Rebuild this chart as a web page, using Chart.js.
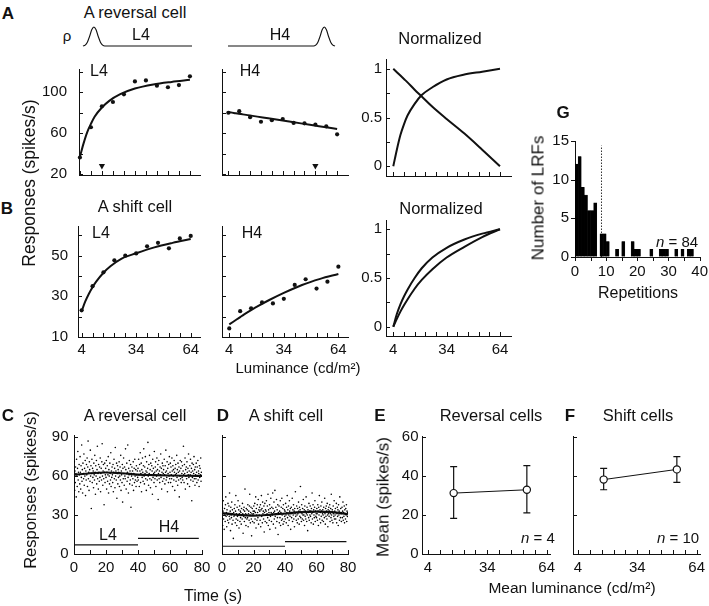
<!DOCTYPE html>
<html>
<head>
<meta charset="utf-8">
<script src="https://cdn.jsdelivr.net/npm/chart.js@4.4.0/dist/chart.umd.min.js"></script>
<style>
  html, body { margin: 0; padding: 0; background: #fff; }
  #fig { position: relative; width: 709px; height: 606px; overflow: hidden;
         font-family: "Liberation Sans", Arial, sans-serif; color: #111; }
  .t { position: absolute; white-space: nowrap; line-height: 1; transform: translate(-50%, -50%); }
  .rot { transform: translate(-50%, -50%) rotate(-90deg); }
  .b { font-weight: bold; }
  canvas { position: absolute; }
</style>
</head>
<body>
<div id="fig"></div>
<script>
// ---- A / B: responses vs luminance ----
const lumX = [4, 10, 16, 22, 28, 34, 40, 46, 52, 58, 64];
const fitX = [4, 6, 8, 10, 12, 16, 20, 26, 34, 44, 54, 64];
const lumTicks = [4, 10, 16, 22, 28, 34, 40, 46, 52, 58, 64];
const lumLabels = [4, 34, 64];

const revL4Resp = [36.2, 65.7, 86.2, 90.4, 97.9, 110.5, 111.4, 106.3, 104.8, 106.9, 115.4];
const revH4Resp = [79.9, 81.4, 75.6, 71.1, 72.6, 73.8, 69.9, 69.6, 68.4, 66.6, 58.8];
const revL4Fit = [37, 50, 61, 69, 76, 85, 91.5, 98, 103.5, 107.5, 110, 112];
const revH4Fit = [80.5, 80, 79.4, 78.9, 78.3, 77.2, 76.1, 74.5, 72.3, 69.5, 66.8, 64];
const revNormL4 = [0, 0.17, 0.32, 0.43, 0.52, 0.64, 0.73, 0.81, 0.89, 0.94, 0.97, 1.0];
const revNormH4 = [1, 0.965, 0.93, 0.895, 0.86, 0.785, 0.715, 0.61, 0.485, 0.335, 0.17, 0];
const markerLum = [16, 52];   // arrowheads in A

const shiftL4Resp = [23.1, 35.0, 41.8, 47.7, 50.0, 51.1, 54.6, 56.3, 53.6, 58.5, 59.7];
const shiftH4Resp = [14.2, 22.7, 24.1, 27.0, 26.5, 28.8, 35.6, 38.4, 33.8, 37.2, 44.6];
const shiftL4Fit = [22.7, 27.5, 31.3, 34.5, 37.2, 41.6, 44.9, 48.6, 51.2, 54.1, 56.3, 58.2];
const shiftH4Fit = [16.2, 17.4, 18.6, 19.8, 21, 23.2, 25.3, 28.2, 31.7, 35.6, 38.6, 41.0];
const shiftNormL4 = [0, 0.13, 0.23, 0.31, 0.38, 0.5, 0.6, 0.71, 0.81, 0.895, 0.955, 1];
const shiftNormH4 = [0, 0.08, 0.155, 0.22, 0.28, 0.39, 0.48, 0.59, 0.71, 0.82, 0.92, 1];

// rho schematics above A
const rhoLowX = [0, 2, 4, 6, 8, 10, 12, 14, 16, 18, 20, 100];
const rhoLowY = [0, 0.05, 0.2, 0.5, 0.85, 1, 0.85, 0.5, 0.2, 0.05, 0, 0];
const rhoHighX = [0, 80, 82, 84, 86, 88, 90, 92, 94, 96, 98, 100];
const rhoHighY = [0, 0, 0.05, 0.2, 0.5, 0.85, 1, 0.85, 0.5, 0.2, 0.05, 0];

// ---- C / D: responses over time (one value every 0.2 s) ----
const sampleStep = 0.2;
const revTimeResp = [
  58,71,49,64,55,67,62,44,73,60,52,66,79,57,63,48,69,61,54,75,
  63,50,68,59,84,56,65,47,70,62,58,77,53,66,60,72,45,64,57,69,
  61,74,52,67,87,58,63,49,71,65,56,80,60,68,35,62,73,55,66,59,
  64,51,70,61,57,76,63,46,68,60,72,54,65,83,58,62,50,69,63,56,
  67,59,74,48,62,66,57,71,85,60,53,64,69,58,38,63,70,55,61,66,
  59,72,50,63,68,56,61,75,47,65,60,54,70,62,57,78,52,64,59,67,
  61,55,69,48,63,73,58,66,51,82,60,64,57,70,43,62,68,54,65,59,
  63,71,52,60,67,57,76,49,64,61,55,69,40,66,58,74,62,53,67,60,
  58,81,65,50,62,70,56,63,84,59,47,66,61,72,54,64,57,69,36,62,
  60,67,53,64,58,71,49,62,66,55,73,60,57,65,52,68,61,56,64,59,
  66,57,73,61,52,69,64,78,55,62,70,48,65,59,74,63,56,68,81,60,
  54,67,62,75,58,64,49,71,63,57,66,86,60,53,69,62,76,58,65,51,
  70,61,57,68,64,46,73,59,66,62,55,79,63,58,67,71,52,64,60,74,
  57,65,69,42,62,72,58,64,55,67,61,77,59,66,50,63,70,56,68,62,
  65,58,73,61,54,68,63,80,57,64,59,71,48,66,62,55,69,60,75,58,
  63,70,55,67,61,58,74,64,52,68,60,65,57,72,63,49,66,61,69,56,
  62,76,59,65,53,70,63,57,67,44,64,60,72,58,66,55,71,62,59,68,
  57,64,83,61,55,69,62,74,50,65,60,67,58,71,63,54,66,61,77,59,
  64,52,68,61,73,57,63,66,41,70,59,64,56,69,62,75,58,65,53,67,
  61,58,70,63,55,67,60,72,57,64,62,52,68,59,66,61,74,56,63,60
];
const shiftTimeResp = [
  28,36,22,33,41,27,31,19,35,30,25,38,44,29,32,21,34,30,26,39,
  31,24,37,29,47,27,33,18,36,30,28,40,23,34,31,26,12,32,29,35,
  30,38,24,33,45,27,31,22,36,29,26,41,30,34,20,31,37,25,33,28,
  32,23,35,30,27,39,31,16,34,29,36,25,33,50,28,31,22,35,30,27,
  34,28,38,21,31,33,26,37,46,30,24,32,36,27,14,31,35,25,30,33,
  31,37,24,33,39,27,32,44,20,35,30,26,38,32,28,42,23,34,30,36,
  33,26,38,21,34,45,29,35,24,40,31,33,27,37,17,32,39,25,34,30,
  33,41,24,31,37,28,46,22,34,32,26,38,19,35,29,43,32,25,36,31,
  30,47,35,23,32,40,27,33,49,29,20,36,31,42,25,34,28,38,15,32,
  31,37,24,33,28,41,22,32,36,26,43,30,27,35,23,38,31,25,34,29,
  33,27,39,30,24,36,32,45,28,34,22,37,30,26,41,33,29,35,19,31,
  36,28,32,43,25,34,30,38,27,33,21,35,31,48,29,32,26,37,30,24,
  35,31,27,40,33,23,36,29,34,52,28,32,25,38,31,27,35,30,42,26,
  30,34,22,37,29,33,27,44,31,25,36,30,18,34,32,28,39,26,33,30,
  37,29,33,24,35,31,47,27,32,38,23,34,30,28,36,41,25,33,29,31,
  28,35,31,26,38,33,22,36,30,45,27,34,32,24,37,29,33,40,26,31,
  34,30,25,36,32,28,43,31,23,35,29,37,33,27,39,30,21,34,31,36,
  29,33,38,25,31,35,28,46,30,26,34,32,24,37,31,29,41,27,33,30,
  35,27,32,39,24,31,36,29,34,22,38,30,33,26,44,31,28,35,32,25,
  31,36,28,33,40,26,32,29,37,24,34,31,27,35,30,38,25,33,29,32
];
const meanT = [0, 10, 20, 30, 40, 50, 60, 70, 80];
const revMean = [61, 62.2, 62.8, 62.2, 61.2, 60.8, 60.5, 60.3, 60.2];
const shiftMean = [31.5, 30.2, 29.6, 30.2, 31.2, 32.2, 32.6, 32.2, 30.8];
const timeTicks = [0, 10, 20, 30, 40, 50, 60, 70, 80];
const timeLabels = [0, 20, 40, 60, 80];
const revStim = { l4: [0, 40, 7], h4: [40, 78, 12] };
const shiftStim = { l4: [0, 40, 6], h4: [40, 79, 9.5] };

// ---- E / F: mean response at mean luminance ----
const meanLum = [17, 54];
const revCellMean = [31.1, 32.8];
const revCellLow = [18.2, 21.0];
const revCellHigh = [44.6, 45.1];
const shiftCellMean = [38.0, 43.2];
const shiftCellLow = [32.8, 36.6];
const shiftCellHigh = [43.7, 49.7];

// ---- G: histogram of repetitions ----
const repBins = [0,1,2,3,4,5,6,7,8,9,10,11,12,13,14,15,16,17,18,19,20,21,22,23,24,25,26,27,28,29,30,31,32,33,34,35,36,37];
const lrfCounts = [12,13,9,8,6,6,7,0,3,3,2,0,0,1,0,2,0,0,2,1,1,0,0,0,1,0,0,1,1,1,0,0,1,0,1,0,1,1];
const repCutoff = 8.5;

Chart.defaults.font.family = '"Liberation Sans", Arial, sans-serif';
Chart.defaults.color = '#111';

const fig = document.getElementById('fig');
const PAD_L = 46, PAD_R = 14, PAD_T = 12, PAD_B = 32;
const INK = '#111';

const tickMarks = {
  id: 'tickMarks',
  afterDraw(chart, args, opts) {
    const ctx = chart.ctx, a = chart.chartArea;
    const xs = chart.scales.x, ys = chart.scales.y;
    const len = opts.outward ? -4 : 4;
    ctx.save();
    ctx.strokeStyle = INK;
    ctx.lineWidth = 1;
    ctx.beginPath();
    xs.ticks.forEach(function (t) {
      const px = Math.round(xs.getPixelForValue(t.value)) + 0.5;
      ctx.moveTo(px, a.bottom);
      ctx.lineTo(px, a.bottom - len);
    });
    ys.ticks.forEach(function (t) {
      const py = Math.round(ys.getPixelForValue(t.value)) + 0.5;
      ctx.moveTo(a.left, py);
      ctx.lineTo(a.left + len, py);
    });
    ctx.stroke();
    ctx.restore();
  }
};

const errorBars = {
  id: 'errorBars',
  beforeDatasetsDraw(chart) {
    const ctx = chart.ctx, xs = chart.scales.x, ys = chart.scales.y;
    ctx.save();
    ctx.strokeStyle = INK;
    ctx.lineWidth = 1.2;
    chart.data.datasets.forEach(function (ds) {
      if (!ds.errLow) return;
      ds.data.forEach(function (p, i) {
        const px = xs.getPixelForValue(p.x);
        const lo = ys.getPixelForValue(ds.errLow[i]);
        const hi = ys.getPixelForValue(ds.errHigh[i]);
        ctx.beginPath();
        ctx.moveTo(px, lo); ctx.lineTo(px, hi);
        ctx.moveTo(px - 3.5, lo); ctx.lineTo(px + 3.5, lo);
        ctx.moveTo(px - 3.5, hi); ctx.lineTo(px + 3.5, hi);
        ctx.stroke();
      });
    });
    ctx.restore();
  }
};
Chart.register(tickMarks, errorBars);

function text(html, cx, cy, size, cls) {
  const d = document.createElement('div');
  d.className = 't ' + (cls || '');
  d.style.left = cx + 'px';
  d.style.top = cy + 'px';
  d.style.fontSize = size + 'px';
  d.innerHTML = html;
  fig.appendChild(d);
}

function pts(xs, ys) {
  return xs.map(function (x, i) { return { x: x, y: ys[i] }; });
}

function dots(xs, ys, r, color) {
  return { data: pts(xs, ys), showLine: false, pointRadius: r, backgroundColor: color || INK,
           borderWidth: 0, clip: false };
}

function curve(xs, ys, w, extra) {
  return Object.assign({ data: pts(xs, ys), showLine: true, borderColor: INK, borderWidth: w,
           pointRadius: 0, cubicInterpolationMode: 'monotone', fill: false, clip: false }, extra || {});
}

function xScale(min, max, ticks, labels, pad) {
  return {
    type: 'linear', min: min, max: max, offset: false,
    afterBuildTicks: function (s) { s.ticks = ticks.map(function (v) { return { value: v }; }); },
    afterFit: function (s) { s.height = PAD_B; },
    grid: { drawOnChartArea: false, drawTicks: false },
    border: { color: INK, width: 1 },
    ticks: { autoSkip: false, maxRotation: 0, padding: pad, color: INK, font: { size: 15 },
             callback: function (v) { return labels.indexOf(v) >= 0 ? String(v) : ''; } }
  };
}

function yScale(min, max, ticks, labels, pad) {
  return {
    type: 'linear', min: min, max: max,
    afterBuildTicks: function (s) { s.ticks = ticks.map(function (v) { return { value: v }; }); },
    afterFit: function (s) { s.width = PAD_L; },
    grid: { drawOnChartArea: false, drawTicks: false },
    border: { color: INK, width: 1 },
    ticks: { autoSkip: false, padding: pad, color: INK, font: { size: 15 },
             callback: function (v) { return labels.indexOf(v) >= 0 ? String(v) : ''; } }
  };
}

function panel(area, datasets, xs, ys, tickOpts, type) {
  const c = document.createElement('canvas');
  const w = (area.r - area.l) + PAD_L + PAD_R;
  const h = (area.b - area.t) + PAD_T + PAD_B;
  c.width = w; c.height = h;
  c.style.left = (area.l - PAD_L) + 'px';
  c.style.top = (area.t - PAD_T) + 'px';
  fig.appendChild(c);
  return new Chart(c, {
    type: type || 'scatter',
    data: { datasets: datasets },
    options: {
      responsive: false, animation: false,
      layout: { padding: { left: 0, top: PAD_T, right: PAD_R, bottom: 0 } },
      plugins: { legend: { display: false }, tooltip: { enabled: false }, tickMarks: tickOpts || {} },
      scales: { x: xs, y: ys }
    }
  });
}

function sketch(area, xs, ys) {
  const c = document.createElement('canvas');
  c.width = area.r - area.l + 4; c.height = area.b - area.t + 4;
  c.style.left = (area.l - 2) + 'px';
  c.style.top = (area.t - 2) + 'px';
  fig.appendChild(c);
  return new Chart(c, {
    type: 'scatter',
    data: { datasets: [curve(xs, ys, 1.1)] },
    options: {
      responsive: false, animation: false,
      layout: { padding: 2 },
      plugins: { legend: { display: false }, tooltip: { enabled: false }, tickMarks: false, errorBars: false },
      scales: { x: { display: false, min: 0, max: 100 }, y: { display: false, min: 0, max: 1 } }
    }
  });
}

const arrowMarks = {
  showLine: false, pointStyle: 'triangle', rotation: 180, pointRadius: 3.6,
  backgroundColor: INK, borderWidth: 0
};

// A
sketch({ l: 83, r: 192, t: 27, b: 46 }, rhoLowX, rhoLowY);
sketch({ l: 228, r: 335, t: 27, b: 46 }, rhoHighX, rhoHighY);

const revTicksY = [20, 40, 60, 80, 100, 120];
panel({ l: 79, r: 200, t: 60, b: 175 },
  [curve(fitX, revL4Fit, 2), dots(lumX, revL4Resp, 2.1),
   Object.assign({}, arrowMarks, { data: [{ x: markerLum[0], y: 28 }] })],
  xScale(3.5, 69.5, lumTicks, [], 5), yScale(19.1, 122.6, revTicksY, [20, 60, 100], 12));
panel({ l: 222, r: 348, t: 60, b: 175 },
  [curve(fitX, revH4Fit, 2), dots(lumX, revH4Resp, 2.1),
   Object.assign({}, arrowMarks, { data: [{ x: markerLum[1], y: 28 }] })],
  xScale(0.5, 70, lumTicks, [], 5), yScale(19.1, 122.6, revTicksY, [], 12));
const normTicks = [0, 0.25, 0.5, 0.75, 1];
panel({ l: 386, r: 511, t: 58, b: 176 },
  [curve(fitX, revNormL4, 2), curve(fitX, revNormH4, 2)],
  xScale(-0.1, 70.2, lumTicks, [], 5), yScale(-0.1, 1.1, normTicks, [0, 0.5, 1], 4));

// B
const shiftTicksY = [10, 20, 30, 40, 50, 60];
panel({ l: 78, r: 200, t: 219, b: 337 },
  [curve(fitX, shiftL4Fit, 2), dots(lumX, shiftL4Resp, 2.1)],
  xScale(2.0, 69.1, lumTicks, lumLabels, 4), yScale(10, 64.6, shiftTicksY, [10, 30, 50], 10));
panel({ l: 222, r: 348, t: 219, b: 337 },
  [curve(fitX, shiftH4Fit, 2), dots(lumX, shiftH4Resp, 2.1)],
  xScale(0, 69.3, lumTicks, lumLabels, 4), yScale(10, 64.6, shiftTicksY, [], 10));
panel({ l: 386, r: 511, t: 219, b: 336 },
  [curve(fitX, shiftNormL4, 2), curve(fitX, shiftNormH4, 2)],
  xScale(-0.1, 70.2, lumTicks, lumLabels, 5), yScale(-0.095, 1.095, normTicks, [0, 0.5, 1], 4));

// C, D
function timeCloud(values) {
  return values.map(function (v, i) { return { x: i * sampleStep, y: v }; });
}
function stimLine(seg) {
  return curve([seg[0], seg[1]], [seg[2], seg[2]], 1.1, { cubicInterpolationMode: 'default' });
}
const timeTicksY = [0, 30, 60, 90];
panel({ l: 74, r: 202, t: 433, b: 554 },
  [{ data: timeCloud(revTimeResp), showLine: false, pointRadius: 0.8, backgroundColor: '#000', borderWidth: 0 },
   curve(meanT, revMean, 2.2), stimLine(revStim.l4), stimLine(revStim.h4)],
  xScale(0, 80, timeTicks, timeLabels, 5), yScale(0, 91.3, timeTicksY, [0, 30, 60, 90], 5.5));
panel({ l: 222, r: 348, t: 433, b: 554 },
  [{ data: timeCloud(shiftTimeResp), showLine: false, pointRadius: 0.8, backgroundColor: '#000', borderWidth: 0 },
   curve(meanT, shiftMean, 2.2), stimLine(shiftStim.l4), stimLine(shiftStim.h4)],
  xScale(0, 80, timeTicks, timeLabels, 5), yScale(0, 91.3, timeTicksY, [], 5.5));

// E, F
function meanSeries(ys, lo, hi) {
  return { data: pts(meanLum, ys), errLow: lo, errHigh: hi, showLine: true, borderColor: INK,
           borderWidth: 1, pointRadius: 3.6, backgroundColor: '#fff', pointBorderColor: INK,
           pointBorderWidth: 1.2, clip: false };
}
const meanTicksY = [0, 20, 40, 60];
panel({ l: 422, r: 550, t: 436, b: 554 },
  [meanSeries(revCellMean, revCellLow, revCellHigh)],
  xScale(1.0, 65.7, lumTicks, lumLabels, 5), yScale(0, 60, meanTicksY, [0, 20, 40, 60], 3.5));
panel({ l: 573, r: 700, t: 436, b: 554 },
  [meanSeries(shiftCellMean, shiftCellLow, shiftCellHigh)],
  xScale(1.5, 65.7, lumTicks, lumLabels, 5), yScale(0, 60, meanTicksY, [], 3.5));

// G
panel({ l: 575, r: 700, t: 138, b: 257 },
  [{ type: 'bar', data: repBins.map(function (b, i) { return { x: b + 0.5, y: lrfCounts[i] }; }),
     backgroundColor: '#000', borderColor: '#000', borderWidth: 0.4, barPercentage: 1, categoryPercentage: 1 },
   { type: 'scatter', data: [{ x: repCutoff, y: 0 }, { x: repCutoff, y: 14.4 }], showLine: true,
     borderColor: '#333', borderWidth: 1, borderDash: [1.5, 1.5], pointRadius: 0 }],
  xScale(0, 40, [0, 5, 10, 15, 20, 25, 30, 35, 40], [0, 10, 20, 30, 40], 6),
  yScale(0, 15, [0, 5, 10, 15], [0, 5, 10, 15], 6), { outward: true }, 'bar');

// text
text('A', 8, 13, 17, 'b');
text('A reversal cell', 135, 12, 16.5);
text('\u03c1', 67, 35, 15);
text('L4', 141, 35, 16);
text('H4', 280, 35, 16);
text('L4', 99, 71, 16);
text('H4', 250, 71, 16);
text('Normalized', 440, 38, 16.5);
text('G', 563, 112, 17, 'b');
text('B', 7, 208, 17, 'b');
text('A shift cell', 135, 206, 16.5);
text('L4', 101, 233, 16);
text('H4', 252, 233, 16);
text('Normalized', 441, 208, 16.5);
text('Responses (spikes/s)', 30, 183, 17.5, 'rot');
text('Luminance (cd/m\u00b2)', 298, 367, 15);
text('Number of LRFs', 538, 198, 17, 'rot');
text('Repetitions', 638, 293, 16);
text('<i>n</i> = 84', 677, 241, 15);

text('C', 8, 415, 17, 'b');
text('A reversal cell', 135, 415, 16.5);
text('D', 223, 415, 17, 'b');
text('A shift cell', 286, 415, 16.5);
text('L4', 108, 535, 16);
text('H4', 169, 527, 16);
text('Responses (spikes/s)', 30, 490, 16.5, 'rot');
text('Time (s)', 213, 596, 16);

text('E', 380, 415, 17, 'b');
text('Reversal cells', 491, 415, 16.5);
text('F', 570, 415, 17, 'b');
text('Shift cells', 638, 415, 16.5);
text('<i>n</i> = 4', 538, 537, 15);
text('<i>n</i> = 10', 678, 537, 15);
text('Mean (spikes/s)', 383, 497, 17, 'rot');
text('Mean luminance (cd/m\u00b2)', 572, 588, 15.5);
</script>
</body>
</html>
